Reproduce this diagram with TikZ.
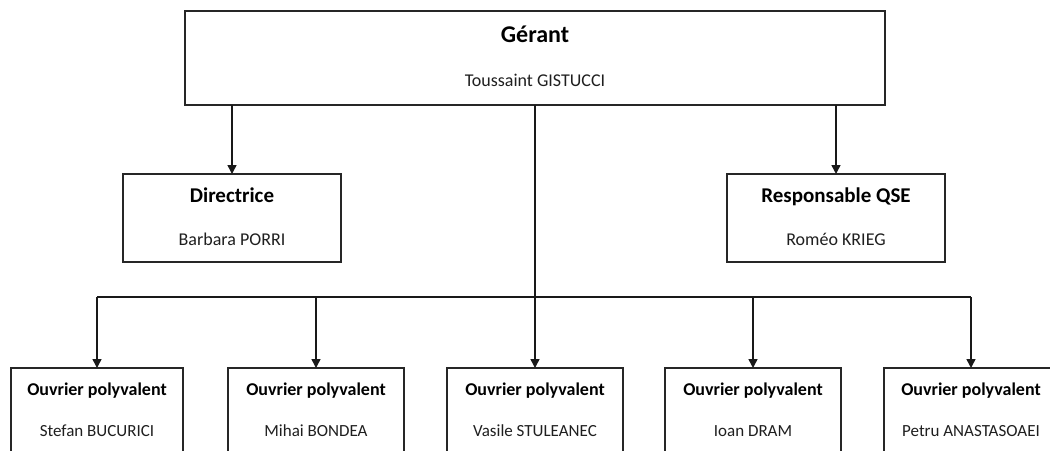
\documentclass[tikz,border=0pt]{standalone}
\usepackage{fontspec}
\setmainfont{Carlito}
\usetikzlibrary{arrows.meta,calc}
\begin{document}
\begin{tikzpicture}[x=1pt,y=-1pt,
  box/.style={draw=black!85, line width=1.5pt, rectangle, inner sep=0pt, outer sep=0pt, anchor=north west},
  topbox/.style={box, line width=1.8pt},
  arr/.style={draw=black!90, line width=1.5pt, -{Triangle[length=9pt,width=9pt]}},
  ln/.style={draw=black!90, line width=1.5pt},
  tA/.style={font=\fontsize{24}{28}\selectfont\bfseries, anchor=base, inner sep=0pt},
  nA/.style={font=\fontsize{18}{22}\selectfont, anchor=base, inner sep=0pt, text=black!88},
  tB/.style={font=\fontsize{21}{25}\selectfont\bfseries, anchor=base, inner sep=0pt},
  nB/.style={font=\fontsize{18}{22}\selectfont, anchor=base, inner sep=0pt, text=black!88},
  tC/.style={font=\fontsize{18}{22}\selectfont\bfseries, anchor=base, inner sep=0pt},
  nC/.style={font=\fontsize{17}{21}\selectfont, anchor=base, inner sep=0pt, text=black!88}]
\useasboundingbox (0,0) rectangle (1050,450);
\clip (0,0) rectangle (1050,450);
\fill[white] (0,0) rectangle (1050,450);
% boxes
\node[topbox, minimum width=700pt, minimum height=94pt] (g) at (185,11) {};
\node[box, minimum width=218pt, minimum height=88pt] (d) at (123,174) {};
\node[box, minimum width=218pt, minimum height=88pt] (q) at (727,174) {};
\node[box, minimum width=172pt, minimum height=110pt] (o1) at (11,368) {};
\node[box, minimum width=176pt, minimum height=110pt] (o2) at (228,368) {};
\node[box, minimum width=176pt, minimum height=110pt] (o3) at (447,368) {};
\node[box, minimum width=176pt, minimum height=110pt] (o4) at (665,368) {};
\node[box, minimum width=174pt, minimum height=110pt] (o5) at (884,368) {};
% texts
\node[tA] (gt) at (g.north |- 0,42) {Gérant};
\node[nA] (gn) at (g.north |- 0,86) {Toussaint GISTUCCI};
\node[tB] (dt) at (d.north |- 0,202) {Directrice};
\node[nB] (dn) at (d.north |- 0,245) {Barbara PORRI};
\node[tB] (qt) at (q.north |- 0,202) {Responsable QSE};
\node[nB] (qn) at (q.north |- 0,245) {Roméo KRIEG};
\node[tC] (o1t) at (o1.north |- 0,395) {Ouvrier polyvalent};
\node[nC] (o1n) at (o1.north |- 0,436) {Stefan BUCURICI};
\node[tC] (o2t) at (o2.north |- 0,395) {Ouvrier polyvalent};
\node[nC] (o2n) at (o2.north |- 0,436) {Mihai BONDEA};
\node[tC] (o3t) at (o3.north |- 0,395) {Ouvrier polyvalent};
\node[nC] (o3n) at (o3.north |- 0,436) {Vasile STULEANEC};
\node[tC] (o4t) at (o4.north |- 0,395) {Ouvrier polyvalent};
\node[nC] (o4n) at (o4.north |- 0,436) {Ioan DRAM};
\node[tC] (o5t) at (o5.north |- 0,395) {Ouvrier polyvalent};
\node[nC] (o5n) at (o5.north |- 0,436) {Petru ANASTASOAEI};
% connectors
\draw[arr] (g.south -| d.north) -- (d.north);
\draw[arr] (g.south -| q.north) -- (q.north);
\draw[arr] (g.south) -- (o3.north);
\coordinate (bus) at (535,297);
\draw[ln] (bus -| o1.north) -- (bus -| o5.north);
\draw[arr] (bus -| o1.north) -- (o1.north);
\draw[arr] (bus -| o2.north) -- (o2.north);
\draw[arr] (bus -| o4.north) -- (o4.north);
\draw[arr] (bus -| o5.north) -- (o5.north);
\end{tikzpicture}
\end{document}
